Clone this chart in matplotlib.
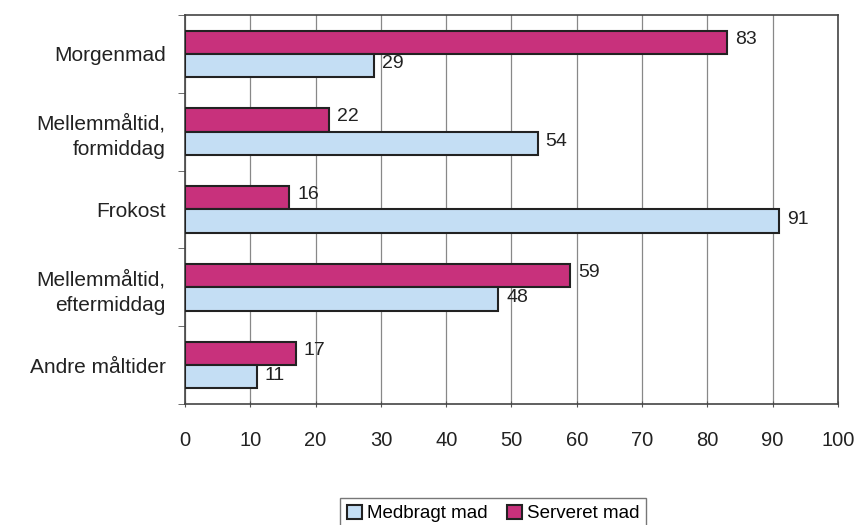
import matplotlib
matplotlib.use("Agg")
import matplotlib.pyplot as plt
import numpy as np

plt.rcParams['font.family'] = ['Liberation Sans', 'DejaVu Sans']

categories = ["Morgenmad", "Mellemmåltid,\nformiddag", "Frokost", "Mellemmåltid,\neftermiddag", "Andre måltider"]
medbragt = [29, 54, 91, 48, 11]
serveret = [83, 22, 16, 59, 17]
xticks = [0, 10, 20, 30, 40, 50, 60, 70, 80, 90, 100]

fig = plt.figure(figsize=(8.59, 5.25), dpi=100)
ax = fig.add_axes([0.2154, 0.2305, 0.7601, 0.741])

y = np.arange(len(categories))
h = 0.3
col_s = "#C8317C"
col_m = "#C4DEF4"
bs = ax.barh(y - h/2, serveret, height=h, color=col_s, edgecolor="#222222", linewidth=1.5, label="Serveret mad", zorder=3)
bm = ax.barh(y + h/2, medbragt, height=h, color=col_m, edgecolor="#222222", linewidth=1.5, label="Medbragt mad", zorder=3)

for yi, v in zip(y, serveret):
    ax.text(v + 1.2, yi - h/2 - 0.04, str(v), va="center", ha="left", fontsize=14, color="#222222")
for yi, v in zip(y, medbragt):
    ax.text(v + 1.2, yi + h/2 - 0.02, str(v), va="center", ha="left", fontsize=14, color="#222222")

ax.set_xlim(0, 100)
ax.set_ylim(len(categories) - 0.5, -0.5)
ax.set_xticks(xticks)
ax.set_xticklabels([str(t) for t in xticks], fontsize=14.5, color="#222222")
ax.tick_params(axis="x", length=5, direction="inout", pad=17, color="#555555")
ax.set_yticks(y)
ax.set_yticklabels(categories, fontsize=15, color="#222222", linespacing=1.4)
ax.tick_params(axis="y", length=0, pad=14)
ax.set_yticks(np.arange(-0.5, len(categories), 1), minor=True)
ax.tick_params(axis="y", which="minor", length=5, color="#555555")
ax.grid(axis="x", color="#888888", linewidth=0.9, zorder=0)
for s in ax.spines.values():
    s.set_color("#444444")
    s.set_linewidth(1.2)

fig.legend(handles=[bm, bs], labels=["Medbragt mad", "Serveret mad"], loc="center",
           bbox_to_anchor=(0.574, 0.022), ncol=2, frameon=True, fancybox=False,
           edgecolor="#555555", fontsize=13.5, handlelength=0.8, handleheight=0.8,
           handletextpad=0.3, columnspacing=1.0, borderpad=0.35)

fig.savefig("out.png", dpi=100, facecolor="white")
